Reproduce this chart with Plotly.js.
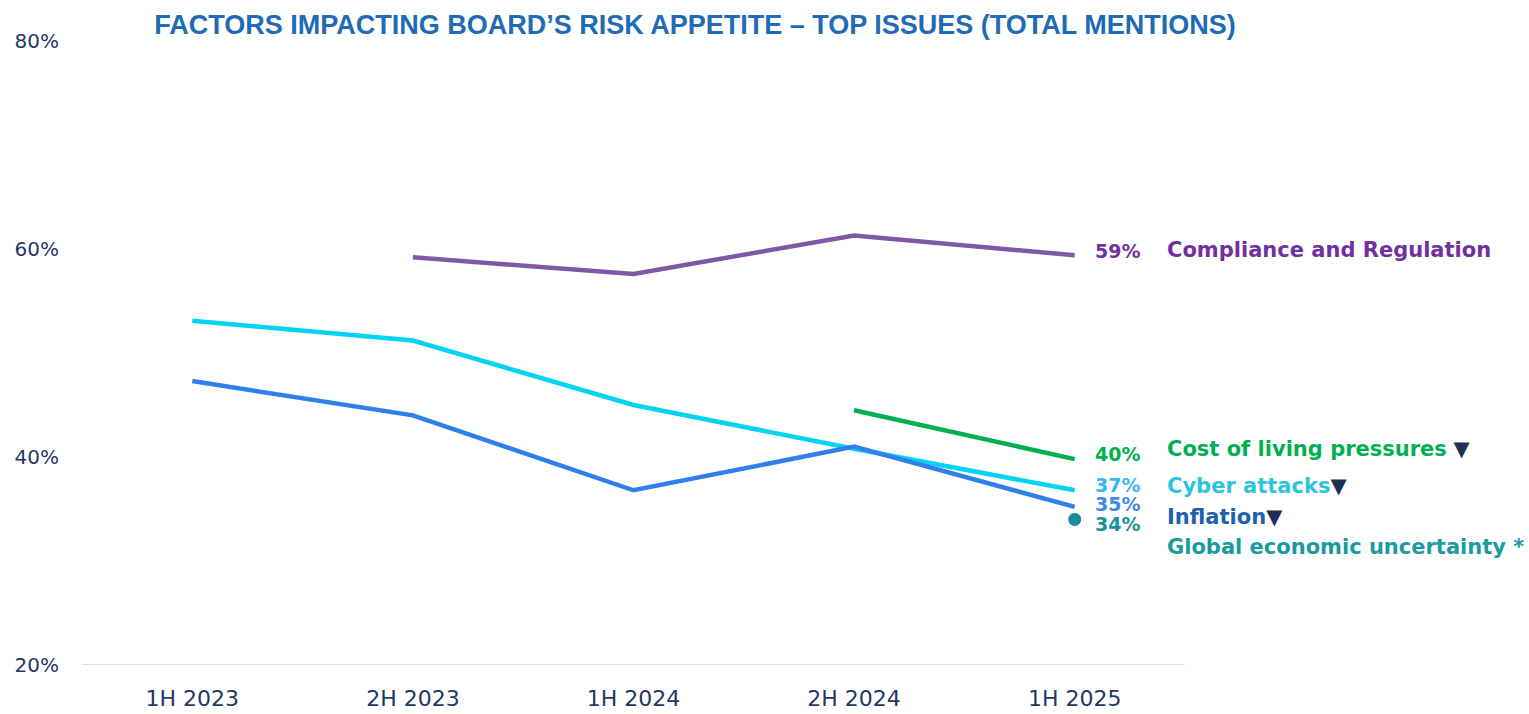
<!DOCTYPE html>
<html>
<head>
<meta charset="utf-8">
<script src="https://cdn.plot.ly/plotly-3.0.1.min.js"></script>
<style>html,body{margin:0;padding:0;background:#fff;}#chart{width:1529px;height:714px;}</style>
</head>
<body>
<div id="chart"></div>
<script>
const periods = ["1H 2023", "2H 2023", "1H 2024", "2H 2024", "1H 2025"];
const compliance = [null, 59.2, 57.6, 61.3, 59.4];
const cyber = [53.1, 51.2, 45.0, 40.8, 36.8];
const inflation = [47.3, 44.0, 36.8, 41.0, 35.2];
const costOfLiving = [null, null, null, 44.5, 39.8];
const globalUncertainty = [null, null, null, null, 34.0];
const yTicks = [20, 40, 60, 80];
const labelValues = ["59%", "40%", "37%", "35%", "34%"];
const seriesNames = ["Compliance and Regulation", "Cost of living pressures", "Cyber attacks", "Inflation", "Global economic uncertainty *"];

const navy = "#1F3055";
const traces = [
  {x: periods, y: compliance, mode: "lines", line: {color: "#7E58A6", width: 4.5}, connectgaps: false},
  {x: periods, y: cyber, mode: "lines", line: {color: "#00D4F2", width: 4.5}},
  {x: periods, y: inflation, mode: "lines", line: {color: "#2F80E8", width: 4.5}},
  {x: periods, y: costOfLiving, mode: "lines", line: {color: "#00B050", width: 4.5}},
  {x: periods, y: globalUncertainty, mode: "markers", marker: {color: "#1A8C9C", size: 13}}
];

const fontB = "DejaVu Sans, Arial, sans-serif";
const last = periods[4];
function valAnn(text, y, yshift, color) {
  return {x: last, y: y, xref: "x", yref: "y", text: "<b>" + text + "</b>", showarrow: false,
    xanchor: "center", yanchor: "middle", xshift: 43, yshift: yshift,
    font: {family: fontB, size: 19, color: color}};
}
function nameAnn(text, y, yshift, color) {
  return {x: last, y: y, xref: "x", yref: "y", text: text, showarrow: false,
    xanchor: "left", yanchor: "middle", xshift: 90, yshift: yshift,
    font: {family: fontB, size: 21, color: color}};
}
const tri = '<span style="color:' + navy + '">▼</span>';
const annotations = [
  valAnn(labelValues[0], compliance[4], 4, "#7030A0"),
  nameAnn("<b>" + seriesNames[0] + "</b>", compliance[4], 5, "#7030A0"),
  valAnn(labelValues[1], costOfLiving[4], 5, "#00B050"),
  nameAnn("<b>" + seriesNames[1] + "</b> " + tri, costOfLiving[4], 10, "#00B050"),
  valAnn(labelValues[2], cyber[4], 5, "#33B8F0"),
  nameAnn("<b>" + seriesNames[2] + "</b>" + tri, cyber[4], 4, "#2EC4E0"),
  valAnn(labelValues[3], inflation[4], 3, "#3C8CE6"),
  nameAnn("<b>" + seriesNames[3] + "</b>" + tri, inflation[4], -10, "#1F5FAF"),
  valAnn(labelValues[4], globalUncertainty[4], -5, "#199199"),
  nameAnn("<b>" + seriesNames[4] + "</b>", globalUncertainty[4], -28, "#1A9BA0")
];

const layout = {
  width: 1529, height: 714,
  margin: {l: 82, r: 344, t: 41, b: 49},
  paper_bgcolor: "#ffffff", plot_bgcolor: "#ffffff",
  showlegend: false,
  title: {text: "<b>FACTORS IMPACTING BOARD’S RISK APPETITE – TOP ISSUES (TOTAL MENTIONS)</b>",
    xref: "container", yref: "container", x: 0.4545, y: 0.965, xanchor: "center", yanchor: "middle",
    font: {family: "Liberation Sans Narrow, Arial Narrow, Liberation Sans, sans-serif", size: 27, color: "#1F6BB5"}},
  xaxis: {type: "category", range: [-0.5, 4.5], showgrid: false, zeroline: false,
    showline: false, ticks: "", ticklabelstandoff: 18,
    tickfont: {family: "DejaVu Sans, sans-serif", size: 22, color: "#1F3864"}},
  yaxis: {range: [20, 80], tickvals: yTicks, ticktext: yTicks.map(v => v + "%"), showgrid: false,
    zeroline: false, showline: false, ticks: "", ticklabelstandoff: 22,
    tickfont: {family: "DejaVu Sans, sans-serif", size: 20, color: "#1F3864"}},
  shapes: [{type: "line", xref: "paper", yref: "y", x0: 0, x1: 1, y0: 20, y1: 20,
    line: {color: "#D9D9D9", width: 1.5}}],
  annotations: annotations
};

Plotly.newPlot("chart", traces, layout, {displayModeBar: false, staticPlot: true});
</script>
</body>
</html>
